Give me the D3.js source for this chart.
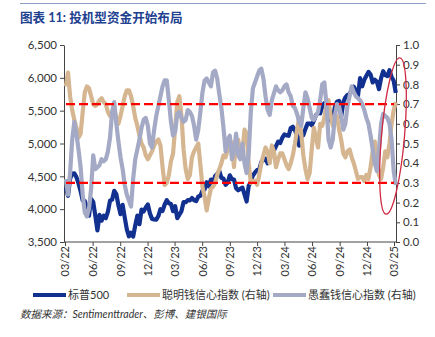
<!DOCTYPE html>
<html lang="zh">
<head>
<meta charset="UTF-8">
<title>投机型资金开始布局</title>
<script src="https://d3js.org/d3.v7.min.js"></script>
<style>
  body { margin: 0; background: #fff; }
  text { font-family: Lato, "Noto Sans CJK SC", sans-serif; }
</style>
</head>
<body>
<div id="chart"></div>
<script>
// weekly closes, first week ending 2022-03-04
const spx = [
  4329, 4204, 4463, 4543, 4546, 4488, 4392, 4272, 4132, 4123, 4024, 3901, 4158,
  4109, 3901, 3675, 3912, 3825, 3899, 3863, 3962, 4130, 4145, 4280, 4228, 4058,
  3924, 4067, 3873, 3693, 3586, 3640, 3583, 3752, 3901, 3771, 3993, 3965, 4026,
  4072, 3934, 3852, 3845, 3840,
  3895, 3999, 3973, 4071, 4136, 4090, 4079, 3970, 4046, 3862, 3917, 3971, 4109,
  4105, 4138, 4133, 4169, 4136, 4124, 4192, 4205, 4282, 4299, 4410, 4348, 4450,
  4399, 4505, 4536, 4582, 4478, 4464, 4370, 4406, 4515, 4457, 4450, 4320, 4288,
  4309, 4328, 4224, 4117, 4358, 4415, 4514, 4559, 4595, 4604, 4719, 4755, 4770,
  4697, 4784, 4840, 4891, 4959, 5027, 5006, 5089, 5137, 5124, 5117, 5234, 5254,
  5204, 5123, 4967, 5100, 5128, 5223, 5303, 5305, 5278, 5347, 5432, 5465, 5460,
  5567, 5615, 5505, 5459, 5346, 5344, 5554, 5635, 5648, 5408, 5626, 5703, 5738,
  5751, 5815, 5865, 5808, 5729, 5995, 5871, 5969, 6032, 6090, 6051, 5931, 5971,
  5942, 5827, 5997, 6101, 6041, 6026, 6115, 6013, 5955, 5770
];

// 聪明钱信心指数
const smartMoney = [
  0.79, 0.86, 0.74, 0.67, 0.62, 0.58, 0.53, 0.55, 0.66, 0.76, 0.79, 0.78, 0.74,
  0.70, 0.69, 0.70, 0.72, 0.73, 0.71, 0.70, 0.66, 0.64, 0.64, 0.67, 0.63, 0.60,
  0.64, 0.69, 0.74, 0.77, 0.77, 0.74, 0.69, 0.63, 0.59, 0.54, 0.50, 0.48, 0.44,
  0.42, 0.44, 0.46, 0.49, 0.51, 0.52, 0.49, 0.38, 0.29, 0.30, 0.34, 0.41, 0.45,
  0.58, 0.71, 0.74, 0.64, 0.47, 0.37, 0.32, 0.34, 0.43, 0.46, 0.48, 0.50, 0.39,
  0.28, 0.23, 0.16, 0.22, 0.27, 0.28, 0.30, 0.34, 0.37, 0.40, 0.44, 0.43, 0.47,
  0.52, 0.50, 0.38, 0.52, 0.52, 0.43, 0.46, 0.57, 0.55, 0.40, 0.30, 0.31, 0.31,
  0.29, 0.34, 0.40, 0.44, 0.48, 0.46, 0.40, 0.49, 0.46, 0.38, 0.42, 0.45, 0.45,
  0.42, 0.39, 0.37, 0.40, 0.44, 0.50, 0.57, 0.63, 0.55, 0.44, 0.37, 0.32, 0.35,
  0.47, 0.58, 0.53, 0.48, 0.60, 0.59, 0.63, 0.70, 0.72, 0.64, 0.59, 0.63, 0.64,
  0.57, 0.52, 0.45, 0.43, 0.46, 0.47, 0.43, 0.40, 0.36, 0.32, 0.33, 0.33, 0.31,
  0.34, 0.32, 0.38, 0.46, 0.51, 0.42, 0.34, 0.32, 0.38, 0.46, 0.43, 0.50, 0.60,
  0.67, 0.71
];

// 愚蠢钱信心指数
const dumbMoney = [
  0.32, 0.24, 0.35, 0.52, 0.61, 0.55, 0.47, 0.38, 0.24, 0.15, 0.13, 0.17, 0.27,
  0.44, 0.37, 0.38, 0.39, 0.42, 0.41, 0.42, 0.46, 0.53, 0.66, 0.71, 0.60, 0.51,
  0.43, 0.37, 0.29, 0.24, 0.21, 0.18, 0.32, 0.42, 0.47, 0.52, 0.58, 0.62, 0.63,
  0.59, 0.50, 0.48, 0.57, 0.64, 0.69, 0.74, 0.79, 0.82, 0.82, 0.72, 0.61, 0.54,
  0.56, 0.65, 0.66, 0.63, 0.61, 0.62, 0.67, 0.66, 0.64, 0.59, 0.52, 0.57, 0.66,
  0.76, 0.82, 0.83, 0.81, 0.79, 0.86, 0.87, 0.83, 0.75, 0.68, 0.58, 0.46, 0.52,
  0.54, 0.42, 0.46, 0.55, 0.44, 0.42, 0.50, 0.40, 0.35, 0.45, 0.66, 0.78, 0.81,
  0.84, 0.87, 0.88, 0.83, 0.74, 0.67, 0.645, 0.72, 0.755, 0.79, 0.77, 0.76, 0.77,
  0.79, 0.80, 0.76, 0.74, 0.69, 0.68, 0.65, 0.61, 0.59, 0.68, 0.76, 0.73, 0.68,
  0.63, 0.62, 0.64, 0.66, 0.72, 0.80, 0.81, 0.70, 0.52, 0.48, 0.52, 0.64, 0.70,
  0.69, 0.64, 0.57, 0.60, 0.69, 0.74, 0.79, 0.76, 0.74, 0.73, 0.72, 0.70, 0.67,
  0.63, 0.60, 0.54, 0.47, 0.40, 0.36, 0.47, 0.60, 0.65, 0.64, 0.63, 0.60, 0.52,
  0.36, 0.29
];

const leftTicks = [3500, 4000, 4500, 5000, 5500, 6000, 6500];
const rightTicks = [0, 0.1, 0.2, 0.3, 0.4, 0.5, 0.6, 0.7, 0.8, 0.9, 1.0];
const bands = [0.3, 0.7];
const legendNames = ["标普500", "聪明钱信心指数 (右轴)", "愚蠢钱信心指数 (右轴)"];
const colors = ["#12308f", "#d5b690", "#a4aac6"];

const W = 435, H = 337;
const plotLeft = 64, plotRight = 396, plotTop = 45, plotBottom = 242;

const firstWeek = new Date(2022, 2, 4);
const dates = spx.map((_, i) => d3.timeDay.offset(firstWeek, 7 * i));
// quarterly ticks starting from March
const quarters = d3.timeMonth.range(new Date(2022, 2, 1), new Date(2025, 2, 2), 3);

const svg = d3.select("#chart").append("svg")
  .attr("width", W)
  .attr("height", H);

// title and rule above it
svg.append("line")
  .attr("x1", 20).attr("x2", 426).attr("y1", 3.5).attr("y2", 3.5)
  .attr("stroke", "#8fa2c6").attr("stroke-width", 1.2);
svg.append("text")
  .attr("x", 20).attr("y", 22)
  .attr("fill", "#21408f")
  .attr("font-size", 12.6)
  .attr("font-weight", "bold")
  .text("图表 11: 投机型资金开始布局");

const x = d3.scaleTime()
  .domain([new Date(2022, 2, 1), new Date(2025, 2, 1)])
  .range([65, 394]);
const yL = d3.scaleLinear().domain([3500, 6500]).range([plotBottom, plotTop]);
const yR = d3.scaleLinear().domain([0, 1]).range([plotBottom, plotTop]);

// axes
const axisColor = "#444";
const gL = svg.append("g").attr("transform", `translate(${plotLeft},0)`)
  .call(d3.axisLeft(yL).tickValues(leftTicks).tickFormat(d3.format(",")).tickSize(4).tickSizeOuter(0));
const gR = svg.append("g").attr("transform", `translate(${plotRight},0)`)
  .call(d3.axisRight(yR).tickValues(rightTicks).tickFormat(d3.format(".1f")).tickSize(4).tickSizeOuter(0));
const gB = svg.append("g").attr("transform", `translate(0,${plotBottom})`)
  .call(d3.axisBottom(x).tickValues(quarters).tickFormat(d3.timeFormat("%m/%y")).tickSize(4).tickSizeOuter(0));
gB.select(".domain").remove();
gB.append("line").attr("x1", plotLeft).attr("x2", plotRight).attr("stroke", axisColor);

[gL, gR, gB].forEach(g => {
  g.selectAll("path, line").attr("stroke", axisColor);
  g.selectAll("text").attr("fill", "#333").attr("font-size", 11.5)
    .attr("font-family", "Lato, sans-serif");
});
gL.selectAll("text").attr("x", -7);
gR.selectAll("text").attr("x", 7);
gB.selectAll("text")
  .attr("transform", "rotate(-90)")
  .attr("text-anchor", "end")
  .attr("x", -4)
  .attr("y", 0)
  .attr("dy", "0.35em")
  .attr("font-size", 11);

// series
const lineL = d3.line().x((d, i) => x(dates[i])).y(d => yL(d));
const lineR = d3.line().x((d, i) => x(dates[i])).y(d => yR(d));
const plot = svg.append("g");
[[spx, lineL], [smartMoney, lineR], [dumbMoney, lineR]].forEach(([vals, gen], k) => {
  plot.append("path")
    .datum(vals)
    .attr("d", gen)
    .attr("fill", "none")
    .attr("stroke", colors[k])
    .attr("stroke-width", 4.2)
    .attr("stroke-linejoin", "round");
});

// threshold lines
svg.selectAll(".band").data(bands).enter().append("line")
  .attr("class", "band")
  .attr("x1", plotLeft + 2).attr("x2", plotRight - 2)
  .attr("y1", d => yR(d)).attr("y2", d => yR(d))
  .attr("stroke", "#ff0000")
  .attr("stroke-width", 2.4)
  .attr("stroke-dasharray", "9,4");

// highlight ellipse on the latest weeks
svg.append("ellipse")
  .attr("cx", 393).attr("cy", 136)
  .attr("rx", 11.5).attr("ry", 78.5)
  .attr("transform", "rotate(5,393,136)")
  .attr("fill", "none")
  .attr("stroke", "#cf2a42")
  .attr("stroke-width", 1.3);

// legend
const legendX = [33, 127, 273];
const legend = svg.selectAll(".legend").data(legendNames).enter().append("g")
  .attr("class", "legend")
  .attr("transform", (d, i) => `translate(${legendX[i]},295)`);
legend.append("line")
  .attr("x1", 0).attr("x2", 33)
  .attr("stroke", (d, i) => colors[i])
  .attr("stroke-width", 4);
legend.append("text")
  .attr("x", 35).attr("dy", "0.35em")
  .attr("font-size", 11)
  .attr("fill", "#333")
  .text(d => d);

// source note
svg.append("text")
  .attr("x", 20).attr("y", 318)
  .attr("font-size", 10.5)
  .attr("font-style", "italic")
  .attr("fill", "#333")
  .text("数据来源：Sentimenttrader、彭博、建银国际");
</script>
</body>
</html>
